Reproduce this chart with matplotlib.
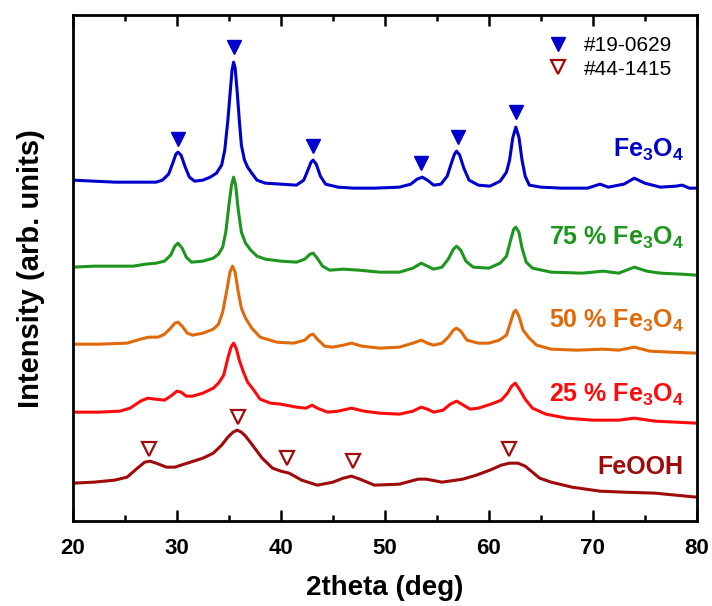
import numpy as np
import matplotlib
matplotlib.use("Agg")
import matplotlib.pyplot as plt

plt.rcParams['font.family'] = ['Liberation Sans', 'DejaVu Sans']
plt.rcParams['mathtext.fontset'] = 'custom'
plt.rcParams['mathtext.rm'] = 'Liberation Sans:bold'
plt.rcParams['mathtext.bf'] = 'Liberation Sans:bold'

# ---- data (2theta in deg, intensity in arb. units incl. offset) ----
fe3o4_x = [20.0, 22.0, 24.0, 26.0, 28.0, 28.6, 29.2, 29.6, 29.9, 30.1, 30.4, 30.8, 31.2, 31.7, 32.5,
           33.2, 33.8, 34.3, 34.6, 34.9, 35.1, 35.3, 35.45, 35.6, 35.8, 36.0, 36.2, 36.5, 36.8, 37.2,
           37.7, 38.5, 40.0, 41.5, 42.2, 42.6, 42.9, 43.1, 43.4, 43.8, 44.3, 45.5, 47.0, 49.0, 51.4,
           52.5, 53.1, 53.6, 54.1, 54.7, 55.4, 56.0, 56.4, 56.7, 56.9, 57.2, 57.6, 58.1, 59.0, 60.1,
           61.1, 61.7, 62.0, 62.3, 62.6, 62.9, 63.2, 63.5, 63.9, 65.0, 67.0, 69.5, 70.7, 71.5, 73.0,
           74.0, 75.0, 76.5, 78.0, 78.6, 79.3, 80.0]
fe3o4_y = [341, 340, 339, 339, 339, 341, 347, 358, 367, 369, 366, 354, 344, 340, 341,
           344, 348, 356, 371, 401, 426, 451, 459, 453, 429, 401, 376, 361, 354, 348,
           341, 338, 337, 336, 341, 351, 359, 361, 357, 345, 337, 334, 333, 333, 334,
           337, 342, 344, 341, 336, 337, 345, 358, 367, 370, 366, 353, 341, 336, 335,
           340, 349, 361, 383, 394, 384, 361, 345, 336, 334, 333, 333, 337, 334, 337,
           343, 338, 334, 335, 336, 333, 333]

p75_x = [20.0, 22.0, 24.0, 25.8, 27.0, 28.0, 28.8, 29.4, 29.8, 30.1, 30.5, 30.9, 31.4, 32.5, 33.5,
         34.0, 34.4, 34.7, 35.0, 35.25, 35.45, 35.65, 35.9, 36.2, 36.6, 37.1, 37.7, 38.5, 40.0, 41.5,
         42.3, 42.8, 43.1, 43.5, 44.0, 44.7, 46.0, 47.5, 49.5, 51.4, 52.7, 53.5, 54.1, 54.7, 55.5,
         56.1, 56.6, 56.9, 57.3, 57.8, 58.5, 60.0, 61.1, 61.7, 62.1, 62.4, 62.6, 62.9, 63.2, 63.6,
         64.2, 66.0, 69.0, 71.0, 72.5, 74.0, 75.2, 76.5, 78.5, 80.0]
p75_y = [254, 255, 255, 255, 257, 258, 260, 266, 275, 278, 273, 264, 259, 260, 263,
         267, 274, 289, 316, 336, 344, 336, 311, 289, 278, 271, 265, 262, 260, 259,
         262, 267, 268, 263, 255, 251, 252, 251, 249, 249, 253, 258, 255, 252, 254,
         262, 272, 275, 271, 260, 254, 253, 258, 265, 281, 292, 294, 289, 273, 259,
         253, 249, 248, 250, 248, 254, 250, 248, 247, 246]

p50_x = [20.0, 22.5, 25.2, 26.5, 27.3, 28.2, 28.8, 29.4, 29.8, 30.1, 30.5, 31.0, 31.5, 32.5, 33.5,
         34.0, 34.4, 34.8, 35.1, 35.35, 35.6, 35.9, 36.2, 36.6, 37.2, 38.0, 39.6, 41.2, 42.3, 42.8,
         43.1, 43.5, 44.2, 45.0, 46.0, 46.8, 47.8, 49.5, 51.4, 52.7, 53.5, 54.1, 54.7, 55.5, 56.1,
         56.6, 56.9, 57.3, 57.9, 59.0, 60.0, 61.0, 61.7, 62.1, 62.4, 62.6, 62.9, 63.3, 63.9, 64.6,
         66.0, 68.5, 71.0, 72.5, 74.0, 75.5, 77.5, 80.0]
p50_y = [177, 177, 178, 182, 184, 184, 187, 193, 198, 199, 195, 188, 186, 188, 192,
         197, 209, 231, 249, 255, 249, 229, 213, 203, 193, 184, 179, 178, 181, 186,
         187, 182, 175, 174, 176, 178, 175, 173, 174, 178, 181, 178, 176, 178, 184,
         191, 193, 190, 181, 178, 178, 181, 186, 199, 209, 211, 205, 191, 183, 176,
         172, 171, 172, 171, 174, 170, 169, 168]

p25_x = [20.0, 22.5, 24.5, 25.5, 26.5, 27.2, 27.9, 28.8, 29.4, 30.0, 30.4, 30.9, 31.5, 32.5, 33.5,
         34.0, 34.5, 34.9, 35.2, 35.45, 35.7, 36.0, 36.4, 36.8, 37.4, 38.0, 39.0, 40.0, 41.5, 42.4,
         43.0, 43.5, 44.5, 45.5, 46.8, 48.0, 49.5, 51.4, 52.7, 53.5, 54.1, 54.7, 55.6, 56.3, 56.9,
         57.4, 58.2, 59.0, 60.2, 61.2, 61.8, 62.2, 62.55, 63.0, 63.5, 64.2, 65.5, 67.5, 70.0, 72.5,
         74.0, 76.0, 78.0, 80.0]
p25_y = [109, 109, 110, 113, 120, 123, 122, 121, 125, 130, 129, 125, 125, 128, 133,
         138, 146, 163, 174, 178, 173, 161, 149, 139, 131, 122, 118, 117, 114, 113,
         116, 113, 109, 110, 113, 110, 108, 107, 110, 114, 112, 109, 111, 117, 120,
         117, 112, 113, 117, 121, 128, 135, 138, 131, 122, 113, 107, 103, 101, 101,
         103, 100, 99, 98]

feooh_x = [20.0, 22.0, 24.0, 25.2, 26.2, 26.9, 27.4, 28.0, 29.0, 29.8, 31.0, 32.5, 33.5, 34.3, 34.9,
           35.4, 35.8, 36.2, 36.6, 37.2, 38.2, 39.2, 40.0, 40.8, 42.0, 43.5, 45.0, 46.0, 46.8, 47.6,
           49.0, 51.4, 53.2, 54.0, 55.5, 57.5, 58.8, 60.1, 61.2, 62.0, 62.8, 63.5, 64.2, 64.9, 66.0,
           68.0, 70.7, 73.0, 76.0, 78.0, 80.0]
feooh_y = [38, 39, 41, 44, 53, 59, 60, 58, 54, 54, 58, 63, 68, 76, 84,
           89, 91, 89, 85, 77, 63, 53, 50, 48, 41, 36, 39, 43, 45, 42,
           36, 37, 42, 42, 39, 42, 46, 51, 56, 58, 58, 55, 49, 43, 39,
           34, 30, 29, 28, 26, 24]

# reference peak markers
jcpds_19_0629_x = [30.1, 35.45, 43.1, 53.5, 57.0, 62.6]
jcpds_19_0629_y = [382, 474, 375, 358, 384, 409]
jcpds_44_1415_x = [27.3, 35.9, 40.6, 46.9, 61.9]
jcpds_44_1415_y = [72, 104, 63, 60, 72]

labels = [r"Fe$_\mathbf{3}$O$_\mathbf{4}$", r"75 % Fe$_\mathbf{3}$O$_\mathbf{4}$",
          r"50 % Fe$_\mathbf{3}$O$_\mathbf{4}$", r"25 % Fe$_\mathbf{3}$O$_\mathbf{4}$", "FeOOH"]
label_y = [364, 276, 193, 119, 47]
colors = ['#0000CC', '#1E961E', '#E06A0A', '#FF0A0A', '#A00A0A']

xs = [fe3o4_x, p75_x, p50_x, p25_x, feooh_x]
ys = [fe3o4_y, p75_y, p50_y, p25_y, feooh_y]

fig = plt.figure(figsize=(7.12, 6.06), dpi=100)
ax = fig.add_axes([0.1025, 0.14, 0.876, 0.835])

for x, y, c, lab, ly in zip(xs, ys, colors, labels, label_y):
    ax.plot(x, y, color=c, lw=2.2, solid_joinstyle='round')
    ax.text(78.75, ly, lab, color=c, ha='right', va='baseline',
            fontsize=18, fontweight='bold')

ax.plot(jcpds_19_0629_x, jcpds_19_0629_y, 'v', color='#0000CC', ms=10,
        ls='none', label='#19-0629')
ax.plot(jcpds_44_1415_x, jcpds_44_1415_y, 'v', mfc='white', mec='#A00A0A',
        mew=1.6, ms=10, ls='none', label='#44-1415')

leg = ax.legend(loc='upper right', bbox_to_anchor=(0.99, 0.995), frameon=False,
                fontsize=15, handletextpad=0.45, labelspacing=0.2, handlelength=1.5)

ax.set_xlim(20, 80)
ax.set_ylim(0, 506)
ax.set_xticks(np.arange(20, 81, 10))
ax.set_xticks(np.arange(25, 80, 10), minor=True)
ax.set_yticks([])
ax.tick_params(axis='x', which='both', direction='in', top=True, width=1.8)
ax.tick_params(axis='x', which='major', length=8, pad=12)
ax.tick_params(axis='x', which='minor', length=4.5)
for lab in ax.get_xticklabels():
    lab.set_fontweight('bold')
    lab.set_fontsize(16)
for s in ax.spines.values():
    s.set_linewidth(2)

ax.set_xlabel('2theta (deg)', fontsize=20, fontweight='bold', labelpad=12)
ax.set_ylabel('Intensity (arb. units)', fontsize=21, fontweight='bold', labelpad=20)

fig.savefig('out.png', dpi=100)
